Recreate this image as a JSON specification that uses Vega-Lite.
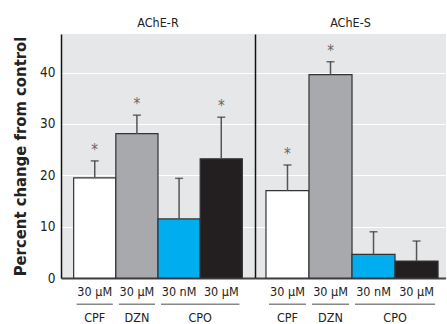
{
  "$schema": "https://vega.github.io/schema/vega-lite/v6.json",
  "padding": {"left": 12, "top": 16, "right": 0, "bottom": 0},
  "background": "white",
  "spacing": 0,
  "config": {
    "view": {"fill": "#e6e7e8", "stroke": null},
    "font": "DejaVu Sans Condensed, Roboto",
    "title": {"fontSize": 12.5, "fontWeight": "normal", "color": "#222", "offset": 5}
  },
  "datasets": {
    "bars": [
      {"panel": "AChE-R", "bar": "CPF|30 μM", "value": 19.5, "hi": 22.8, "star": "*"},
      {"panel": "AChE-R", "bar": "DZN|30 μM", "value": 28.1, "hi": 31.7, "star": "*"},
      {"panel": "AChE-R", "bar": "CPO|30 nM", "value": 11.5, "hi": 19.4, "star": ""},
      {"panel": "AChE-R", "bar": "CPO|30 μM", "value": 23.2, "hi": 31.3, "star": "*"},
      {"panel": "AChE-S", "bar": "CPF|30 μM", "value": 17.0, "hi": 22.0, "star": "*"},
      {"panel": "AChE-S", "bar": "DZN|30 μM", "value": 39.6, "hi": 42.1, "star": "*"},
      {"panel": "AChE-S", "bar": "CPO|30 nM", "value": 4.6, "hi": 9.0, "star": ""},
      {"panel": "AChE-S", "bar": "CPO|30 μM", "value": 3.3, "hi": 7.2, "star": ""}
    ],
    "groups": [
      {"group": "CPF", "first": "CPF|30 μM", "last": "CPF|30 μM", "span": 1},
      {"group": "DZN", "first": "DZN|30 μM", "last": "DZN|30 μM", "span": 1},
      {"group": "CPO", "first": "CPO|30 nM", "last": "CPO|30 μM", "span": 2}
    ]
  },
  "hconcat": [
    {
      "width": 194,
      "height": 244,
      "title": {"text": "AChE-R"},
      "layer": [
        {
          "data": {"name": "bars"},
          "transform": [{"filter": "datum.panel == 'AChE-R'"}],
          "mark": {"type": "bar", "stroke": "#333", "strokeWidth": 1.2},
          "encoding": {
            "x": {"field": "bar", "type": "nominal",
              "scale": {"domain": ["CPF|30 μM", "DZN|30 μM", "CPO|30 nM", "CPO|30 μM"], "paddingInner": 0, "paddingOuter": 0.3},
              "axis": {"title": null, "labelExpr": "split(datum.value, '|')[1]", "labelAngle": 0, "ticks": false, "domainColor": "#444", "domainWidth": 2, "labelFontSize": 12.5, "labelColor": "#222", "labelPadding": 7}},
            "y": {"field": "value", "type": "quantitative",
              "scale": {"domain": [0, 47.5], "nice": false},
              "axis": {"title": "Percent change from control", "titleFontSize": 16.5, "titleFontWeight": "bold", "titleColor": "#222", "titlePadding": 11, "values": [0, 10, 20, 30, 40], "ticks": false, "labelFontSize": 13.5, "labelColor": "#222", "labelPadding": 6, "domainColor": "#111", "domainWidth": 1.5, "gridColor": "white", "gridWidth": 1.2}},
            "fill": {"field": "bar", "type": "nominal", "legend": null,
              "scale": {"domain": ["CPF|30 μM", "DZN|30 μM", "CPO|30 nM", "CPO|30 μM"], "range": ["#ffffff", "#a7a9ac", "#00aeef", "#231f20"]}}
          }
        },
        {
          "data": {"name": "bars"},
          "transform": [{"filter": "datum.panel == 'AChE-R'"}],
          "mark": {"type": "rule", "color": "#555", "strokeWidth": 1.5},
          "encoding": {
            "x": {"field": "bar", "type": "nominal"},
            "y": {"field": "value", "type": "quantitative"},
            "y2": {"field": "hi"}
          }
        },
        {
          "data": {"name": "bars"},
          "transform": [{"filter": "datum.panel == 'AChE-R'"}],
          "mark": {"type": "tick", "color": "#333", "thickness": 1.5, "size": 8},
          "encoding": {
            "x": {"field": "bar", "type": "nominal"},
            "y": {"field": "hi", "type": "quantitative"}
          }
        },
        {
          "data": {"name": "bars"},
          "transform": [{"filter": "datum.panel == 'AChE-R'"}],
          "mark": {"type": "text", "color": "#666", "fontSize": 15, "baseline": "top", "dy": -18},
          "encoding": {
            "x": {"field": "bar", "type": "nominal"},
            "y": {"field": "hi", "type": "quantitative"},
            "text": {"field": "star"}
          }
        },
        {
          "data": {"name": "groups"},
          "mark": {"type": "rule", "color": "#888", "strokeWidth": 1.5, "xOffset": 3, "x2Offset": -3},
          "encoding": {
            "x": {"field": "first", "type": "nominal", "bandPosition": 0},
            "x2": {"field": "last", "bandPosition": 1},
            "y": {"datum": -5.1, "type": "quantitative"}
          }
        },
        {
          "data": {"name": "groups"},
          "transform": [{"filter": "datum.span == 1"}],
          "mark": {"type": "text", "color": "#222", "fontSize": 12.5, "baseline": "middle"},
          "encoding": {
            "x": {"field": "first", "type": "nominal"},
            "y": {"datum": -7.7, "type": "quantitative"},
            "text": {"field": "group"}
          }
        },
        {
          "data": {"name": "groups"},
          "transform": [{"filter": "datum.span == 2"}],
          "mark": {"type": "text", "color": "#222", "fontSize": 12.5, "baseline": "middle"},
          "encoding": {
            "x": {"field": "last", "type": "nominal", "bandPosition": 0},
            "y": {"datum": -7.7, "type": "quantitative"},
            "text": {"field": "group"}
          }
        }
      ]
    },
    {
      "width": 191,
      "height": 244,
      "title": {"text": "AChE-S"},
      "layer": [
        {
          "data": {"name": "bars"},
          "transform": [{"filter": "datum.panel == 'AChE-S'"}],
          "mark": {"type": "bar", "stroke": "#333", "strokeWidth": 1.2},
          "encoding": {
            "x": {"field": "bar", "type": "nominal",
              "scale": {"domain": ["CPF|30 μM", "DZN|30 μM", "CPO|30 nM", "CPO|30 μM"], "paddingInner": 0, "paddingOuter": 0.22, "align": 0.58},
              "axis": {"title": null, "labelExpr": "split(datum.value, '|')[1]", "labelAngle": 0, "ticks": false, "domainColor": "#444", "domainWidth": 2, "labelFontSize": 12.5, "labelColor": "#222", "labelPadding": 7}},
            "y": {"field": "value", "type": "quantitative",
              "scale": {"domain": [0, 47.5], "nice": false},
              "axis": {"title": null, "values": [0, 10, 20, 30, 40], "ticks": false, "labels": false, "domainColor": "#111", "domainWidth": 1.5, "gridColor": "white", "gridWidth": 1.2}},
            "fill": {"field": "bar", "type": "nominal", "legend": null,
              "scale": {"domain": ["CPF|30 μM", "DZN|30 μM", "CPO|30 nM", "CPO|30 μM"], "range": ["#ffffff", "#a7a9ac", "#00aeef", "#231f20"]}}
          }
        },
        {
          "data": {"name": "bars"},
          "transform": [{"filter": "datum.panel == 'AChE-S'"}],
          "mark": {"type": "rule", "color": "#555", "strokeWidth": 1.5},
          "encoding": {
            "x": {"field": "bar", "type": "nominal"},
            "y": {"field": "value", "type": "quantitative"},
            "y2": {"field": "hi"}
          }
        },
        {
          "data": {"name": "bars"},
          "transform": [{"filter": "datum.panel == 'AChE-S'"}],
          "mark": {"type": "tick", "color": "#333", "thickness": 1.5, "size": 8},
          "encoding": {
            "x": {"field": "bar", "type": "nominal"},
            "y": {"field": "hi", "type": "quantitative"}
          }
        },
        {
          "data": {"name": "bars"},
          "transform": [{"filter": "datum.panel == 'AChE-S'"}],
          "mark": {"type": "text", "color": "#666", "fontSize": 15, "baseline": "top", "dy": -18},
          "encoding": {
            "x": {"field": "bar", "type": "nominal"},
            "y": {"field": "hi", "type": "quantitative"},
            "text": {"field": "star"}
          }
        },
        {
          "data": {"name": "groups"},
          "mark": {"type": "rule", "color": "#888", "strokeWidth": 1.5, "xOffset": 3, "x2Offset": -3},
          "encoding": {
            "x": {"field": "first", "type": "nominal", "bandPosition": 0},
            "x2": {"field": "last", "bandPosition": 1},
            "y": {"datum": -5.1, "type": "quantitative"}
          }
        },
        {
          "data": {"name": "groups"},
          "transform": [{"filter": "datum.span == 1"}],
          "mark": {"type": "text", "color": "#222", "fontSize": 12.5, "baseline": "middle"},
          "encoding": {
            "x": {"field": "first", "type": "nominal"},
            "y": {"datum": -7.7, "type": "quantitative"},
            "text": {"field": "group"}
          }
        },
        {
          "data": {"name": "groups"},
          "transform": [{"filter": "datum.span == 2"}],
          "mark": {"type": "text", "color": "#222", "fontSize": 12.5, "baseline": "middle"},
          "encoding": {
            "x": {"field": "last", "type": "nominal", "bandPosition": 0},
            "y": {"datum": -7.7, "type": "quantitative"},
            "text": {"field": "group"}
          }
        }
      ]
    }
  ]
}
